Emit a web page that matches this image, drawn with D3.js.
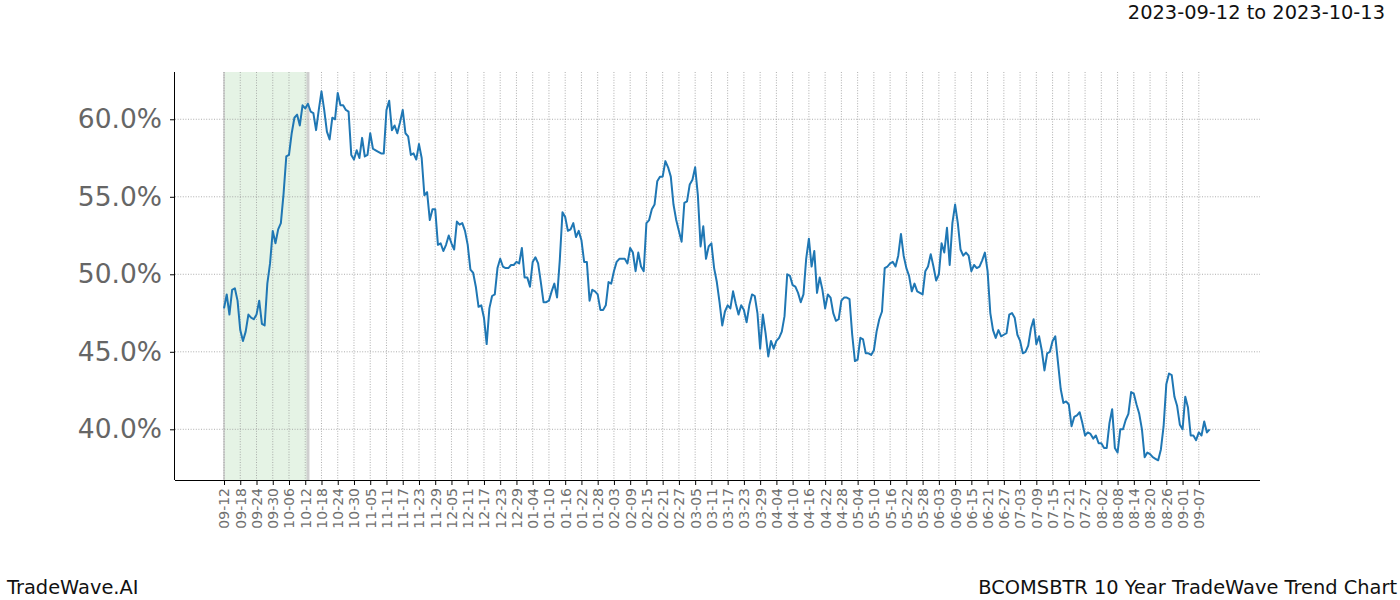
<!DOCTYPE html>
<html>
<head>
<meta charset="utf-8">
<script src="https://cdn.jsdelivr.net/npm/d3@7"></script>
<style>
  html, body { margin: 0; padding: 0; background: #fff; }
  svg { display: block; }
  text { font-family: "DejaVu Sans", sans-serif; }
</style>
</head>
<body>
<svg id="chart" width="1400" height="600"></svg>
<script>
// ---- data (daily values, day 0 = 09-12) ----
const values = [
  47.8,48.7,47.4,49.0,49.1,48.3,46.4,45.7,46.3,47.4,
  47.2,47.1,47.4,48.3,46.8,46.7,49.4,50.7,52.8,52.0,
  52.9,53.3,55.2,57.6,57.7,59.1,60.1,60.3,59.6,60.9,
  60.7,61.0,60.5,60.4,59.3,60.6,61.8,60.6,59.2,58.7,
  60.1,60.0,61.7,60.9,60.9,60.6,60.5,57.7,57.4,58.0,
  57.5,58.8,57.6,57.7,59.1,58.1,58.0,57.9,57.8,57.8,
  60.6,61.2,59.3,59.6,59.1,59.8,60.6,59.1,58.9,57.7,
  57.8,57.4,58.4,57.5,55.1,55.3,53.5,54.2,54.2,51.9,
  52.0,51.5,51.9,52.5,52.0,51.6,53.4,53.2,53.3,52.8,
  51.9,50.3,50.1,49.2,47.9,48.0,47.2,45.5,47.8,48.6,
  48.7,50.4,51.0,50.5,50.4,50.4,50.6,50.6,50.8,50.7,
  51.7,49.8,49.8,49.2,50.8,51.1,50.7,49.5,48.2,48.2,
  48.3,48.9,49.4,48.5,50.9,54.0,53.7,52.8,52.9,53.3,
  52.4,52.8,52.2,50.8,50.8,48.3,49.0,48.9,48.7,47.7,
  47.7,48.0,49.5,49.4,50.2,50.8,51.0,51.0,51.0,50.7,
  51.7,51.4,50.2,51.4,50.5,50.2,53.3,53.5,54.2,54.5,
  56.0,56.3,56.3,57.3,56.9,56.3,54.5,53.5,52.8,52.1,
  54.6,54.7,55.8,56.1,56.9,55.1,51.8,53.1,51.0,51.8,
  52.0,50.4,49.5,48.2,46.7,47.6,48.0,47.8,48.9,48.1,
  47.4,48.0,47.7,46.9,48.0,48.7,48.6,47.5,45.2,47.4,
  46.2,44.7,45.7,45.2,45.7,45.9,46.3,47.3,50.0,49.9,
  49.3,49.2,48.8,48.2,48.7,51.0,52.3,50.5,51.5,48.8,
  49.8,49.0,47.8,48.7,48.5,47.5,47.0,47.1,48.3,48.5,
  48.5,48.4,46.1,44.4,44.5,45.9,45.8,44.9,44.9,44.8,
  45.1,46.3,47.1,47.6,50.4,50.5,50.7,50.8,50.5,51.2,
  52.6,51.2,50.4,49.9,48.9,49.4,48.9,48.8,48.7,50.2,
  50.5,51.3,50.5,49.6,50.0,52.0,51.4,53.0,50.6,53.3,
  54.5,53.3,51.6,51.2,51.4,51.2,50.2,50.6,50.4,50.5,
  50.9,51.4,50.2,47.5,46.4,45.9,46.4,46.0,46.1,46.2,
  47.4,47.5,47.2,46.1,45.7,44.9,45.0,45.4,46.5,47.1,
  45.5,46.0,45.1,43.8,44.9,45.0,45.7,46.0,44.3,42.6,
  41.7,41.8,41.6,40.2,40.8,40.9,41.1,40.4,39.6,39.8,
  39.7,39.4,39.6,39.1,39.1,38.8,38.8,40.4,41.3,38.8,
  38.5,40.0,40.0,40.6,41.0,42.4,42.3,41.6,41.0,40.0,
  38.2,38.5,38.4,38.2,38.1,38.0,38.7,40.2,42.9,43.6,
  43.5,42.1,41.5,40.3,40.0,42.1,41.4,39.6,39.6,39.3,
  39.8,39.6,40.5,39.8,40.0
];
const tickLabels = [
  "09-12","09-18","09-24","09-30","10-06","10-12","10-18","10-24","10-30","11-05",
  "11-11","11-17","11-23","11-29","12-05","12-11","12-17","12-23","12-29","01-04",
  "01-10","01-16","01-22","01-28","02-03","02-09","02-15","02-21","02-27","03-05",
  "03-11","03-17","03-23","03-29","04-04","04-10","04-16","04-22","04-28","05-04",
  "05-10","05-16","05-22","05-28","06-03","06-09","06-15","06-21","06-27","07-03",
  "07-09","07-15","07-21","07-27","08-02","08-08","08-14","08-20","08-26","09-01",
  "09-07"
];
const tickStep = 6;               // days between x ticks
const yTicks = [40, 45, 50, 55, 60];
const highlight = [0, 31];        // 09-12 .. 10-13 (day indexes)
const titleText = "2023-09-12 to 2023-10-13";
const footLeft = "TradeWave.AI";
const footRight = "BCOMSBTR 10 Year TradeWave Trend Chart";

// ---- layout ----
const L = 175, R = 1260, T = 72, B = 480;
const svg = d3.select("#chart");

const x = d3.scaleLinear().domain([-18.1, 382.6]).range([L, R]);
const y = d3.scaleLinear().domain([36.73, 63.05]).range([B, T]);

// highlight band
svg.append("rect")
  .attr("x", x(highlight[0])).attr("y", T)
  .attr("width", x(highlight[1]) - x(highlight[0]))
  .attr("height", B - T)
  .attr("fill", "#2ca02c").attr("fill-opacity", 0.12);
svg.append("line")
  .attr("x1", x(highlight[0])).attr("x2", x(highlight[0]))
  .attr("y1", T).attr("y2", B)
  .attr("stroke", "#c8c8c8").attr("stroke-width", 1.5);
svg.append("line")
  .attr("x1", x(highlight[1])).attr("x2", x(highlight[1]))
  .attr("y1", T).attr("y2", B)
  .attr("stroke", "#cfcfcf").attr("stroke-width", 3);

// grid
const tickDays = tickLabels.map((_, i) => i * tickStep);
svg.append("g").selectAll("line").data(tickDays).join("line")
  .attr("x1", d => x(d)).attr("x2", d => x(d))
  .attr("y1", T).attr("y2", B)
  .attr("stroke", "#999999").attr("stroke-width", 0.8)
  .attr("stroke-dasharray", "1,1.6");
svg.append("g").selectAll("line").data(yTicks).join("line")
  .attr("x1", L).attr("x2", R)
  .attr("y1", d => y(d)).attr("y2", d => y(d))
  .attr("stroke", "#999999").attr("stroke-width", 0.8)
  .attr("stroke-dasharray", "1,1.6");

// line
const line = d3.line().x((d, i) => x(i)).y(d => y(d));
svg.append("path").datum(values)
  .attr("d", line)
  .attr("fill", "none")
  .attr("stroke", "#1f77b4")
  .attr("stroke-width", 2)
  .attr("stroke-linejoin", "round");

// axes
const xAxis = d3.axisBottom(x).tickValues(tickDays)
  .tickFormat((d, i) => tickLabels[i]).tickSizeOuter(0).tickSize(5).tickPadding(3);
const gx = svg.append("g").attr("transform", `translate(0,${B})`).call(xAxis);
gx.select(".domain").attr("stroke", "#000").attr("stroke-width", 1)
  .attr("d", `M${L},0.5H${R}`);
gx.selectAll(".tick line").attr("stroke", "#000");
gx.selectAll(".tick text")
  .attr("fill", "#707070")
  .style("font-size", "14px")
  .attr("text-anchor", "end")
  .attr("transform", "rotate(-90)")
  .attr("x", -8).attr("y", 0).attr("dy", "0.35em");

const yAxis = d3.axisLeft(y).tickValues(yTicks)
  .tickFormat(d => d.toFixed(1) + "%").tickSizeOuter(0).tickSize(5).tickPadding(8);
const gy = svg.append("g").attr("transform", `translate(${L},0)`).call(yAxis);
gy.select(".domain").attr("stroke", "#000").attr("stroke-width", 1)
  .attr("d", `M-0.5,${T}V${B}`);
gy.selectAll(".tick line").attr("stroke", "#000");
gy.selectAll(".tick text")
  .attr("fill", "#666666")
  .style("font-size", "26.5px");

// texts
svg.append("text").attr("x", 1385).attr("y", 18.5)
  .attr("text-anchor", "end").style("font-size", "19.4px").attr("fill", "#111")
  .text(titleText);
svg.append("text").attr("x", 7).attr("y", 594)
  .style("font-size", "19.4px").attr("fill", "#111")
  .text(footLeft);
svg.append("text").attr("x", 1397).attr("y", 594)
  .attr("text-anchor", "end").style("font-size", "19.4px").attr("fill", "#111")
  .text(footRight);
</script>
</body>
</html>
